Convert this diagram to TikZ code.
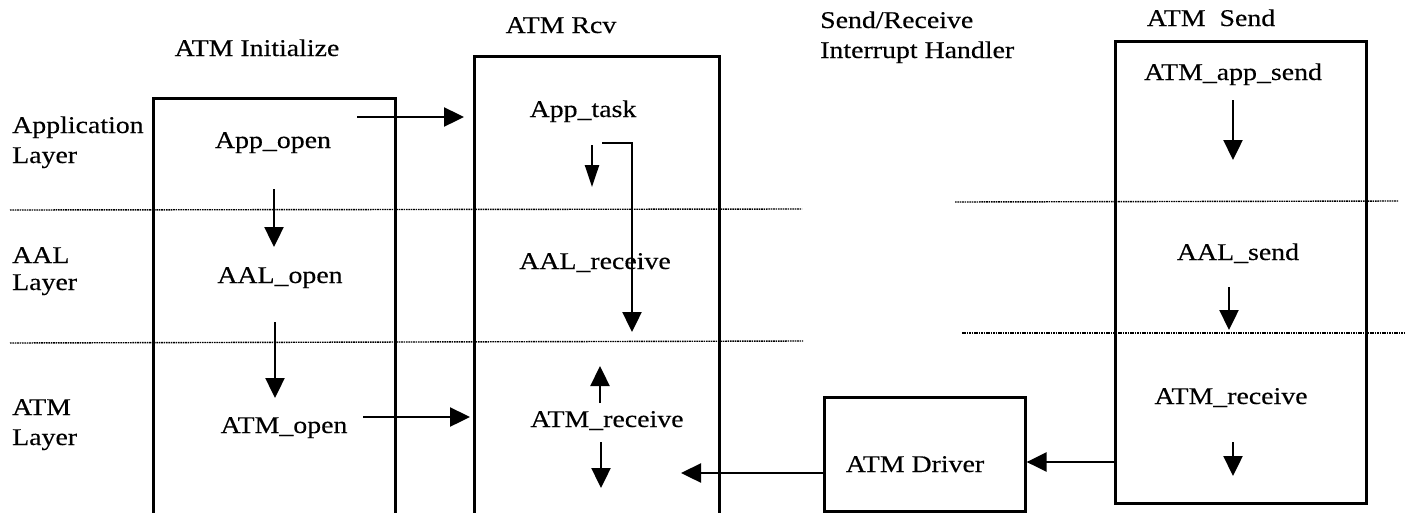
\documentclass[tikz,border=0pt]{standalone}
\usepackage{fontspec}
\setmainfont[FakeStretch=1.16,FakeBold=0.3]{Liberation Serif}
\usetikzlibrary{arrows.meta}
\begin{document}
\begin{tikzpicture}[x=1pt,y=-1pt,
  every node/.style={font=\fontsize{24}{30}\selectfont, inner sep=0pt},
  lbl/.style={anchor=base},
  side/.style={anchor=base west, align=left},
  panel/.style={draw, line width=2.6pt, anchor=north west, inner sep=0pt},
  arr/.style={line width=2.4pt, -{Triangle[length=20pt,width=19pt]}},
  slim/.style={line width=2.4pt, -{Triangle[length=22pt,width=14pt]}},
  layerline/.style={line width=1.4pt, dash pattern=on 1.6pt off 0.8pt}]
\useasboundingbox (0,0) rectangle (1405,512);
\clip (0,0) rectangle (1405,512);

% layer separators
\draw[layerline] (10,210) -- (802,209);
\draw[layerline] (10,343) -- (803,341);
\draw[layerline] (955,202) -- (1398,201);
\draw[layerline] (962,333) -- (1405,333);

% task panels
\node[panel, minimum width=242pt, minimum height=440pt] (initbox) at (152,97) {};
\node[panel, minimum width=245pt, minimum height=480pt] (rcvbox) at (473,55) {};
\node[panel, minimum width=251pt, minimum height=462pt] (sendbox) at (1114,40) {};
\node[panel, minimum width=201pt, minimum height=114pt] (drvbox) at (823,396) {};

% panel titles (multi-line nodes sit on the baseline of their last line)
\node[lbl] (tinit) at (257,56) {ATM Initialize};
\node[lbl] (trcv) at (561,33) {ATM Rcv};
\node[side] (tsr) at (820,58) {Send/Receive\\Interrupt Handler};
\node[lbl] (tsend) at (1211,26) {ATM\ \ Send};

% layer names
\node[side] (lapp) at (12,163) {Application\\Layer};
\node[side] (laal) at (12,290) {AAL\\[-3pt]Layer};
\node[side] (latm) at (12,445) {ATM\\Layer};

% routines
\node[lbl] (appopen) at (273,148) {App\_open};
\node[lbl] (aalopen) at (280,283) {AAL\_open};
\node[lbl] (atmopen) at (284,433) {ATM\_open};
\node[lbl] (apptask) at (583,117) {App\_task};
\node[lbl] (aalrcv) at (595,269) {AAL\_receive};
\node[lbl] (atmrcv) at (607,427) {ATM\_receive};
\node[lbl] (appsend) at (1233,80) {ATM\_app\_send};
\node[lbl] (aalsend) at (1238,260) {AAL\_send};
\node[lbl] (atmrcvs) at (1231,404) {ATM\_receive};
\node[lbl] (driver) at (915,472) {ATM Driver};

% connector end points
\coordinate (c1a) at (357,117);  \coordinate (c1b) at (464,117);
\coordinate (c2a) at (274,189);  \coordinate (c2b) at (274,247);
\coordinate (c3a) at (275,322);  \coordinate (c3b) at (275,398);
\coordinate (c4a) at (363,417);  \coordinate (c4b) at (470,417);
\coordinate (c5a) at (592,145);  \coordinate (c5b) at (592,187);
\coordinate (c6a) at (602,143);  \coordinate (c6k) at (632,143);
\coordinate (c6b) at (632,332);
\coordinate (c7a) at (600,403);  \coordinate (c7b) at (600,366);
\coordinate (c8a) at (601,442);  \coordinate (c8b) at (601,488);
\coordinate (c9b) at (681,473);
\coordinate (c10a) at (1114,462);
\coordinate (c11a) at (1233,100); \coordinate (c11b) at (1233,160);
\coordinate (c12a) at (1229,287); \coordinate (c12b) at (1229,330);
\coordinate (c13a) at (1233,442); \coordinate (c13b) at (1233,476);

% calls and data flow
\draw[arr] (c1a) -- (c1b);
\draw[arr] (c2a) -- (c2b);
\draw[arr] (c3a) -- (c3b);
\draw[arr] (c4a) -- (c4b);
\draw[slim] (c5a) -- (c5b);
\draw[arr] (c6a) -- (c6k) -- (c6b);
\draw[arr] (c7a) -- (c7b);
\draw[arr] (c8a) -- (c8b);
\draw[arr] (drvbox.west |- c9b) -- (c9b);
\draw[arr] (c10a) -- (drvbox.east |- c10a);
\draw[arr] (c11a) -- (c11b);
\draw[arr] (c12a) -- (c12b);
\draw[arr] (c13a) -- (c13b);
\end{tikzpicture}
\end{document}
